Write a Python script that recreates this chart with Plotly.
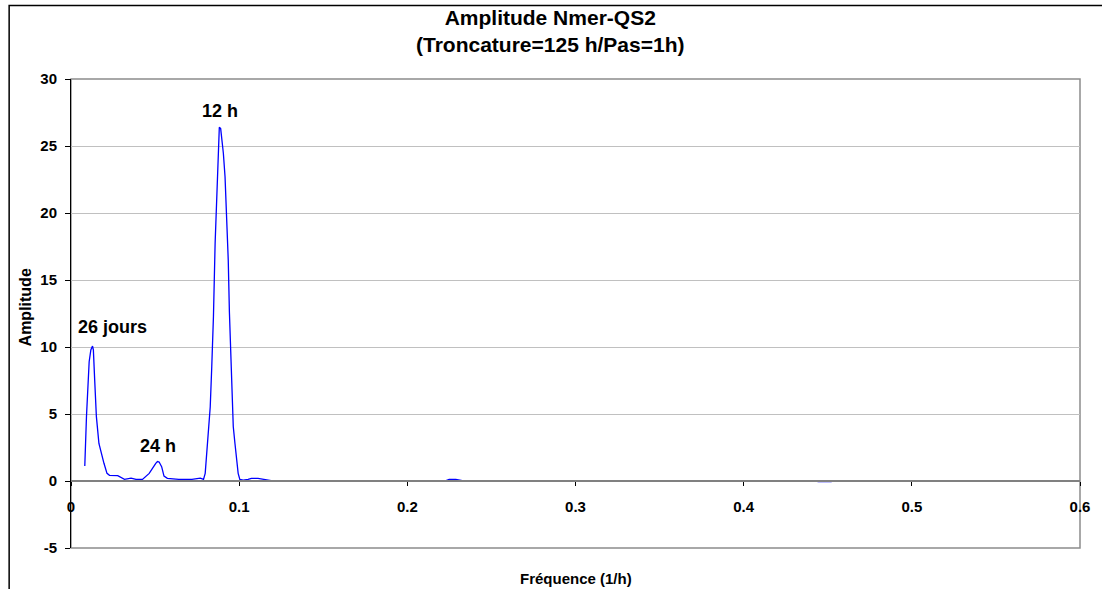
import plotly.graph_objects as go

# Spectre d'amplitude
freq = [0.0082, 0.0092, 0.0108, 0.0118, 0.0128, 0.0133, 0.0141, 0.0151, 0.0166, 0.0180,
        0.0196, 0.0214, 0.0229, 0.0278, 0.0288, 0.0318, 0.0357, 0.0386, 0.0425, 0.0465,
        0.0504, 0.0514, 0.0524, 0.0539, 0.0553, 0.0573, 0.0641, 0.0719, 0.0769, 0.0788,
        0.0798, 0.0808, 0.0818, 0.0828, 0.0837, 0.0847, 0.0857, 0.0866, 0.0872, 0.0876,
        0.0882, 0.0890, 0.0896, 0.0906, 0.0916, 0.0925, 0.0935, 0.0942, 0.0951, 0.0959,
        0.0965, 0.0975, 0.0984, 0.0994, 0.1004, 0.1024, 0.1053, 0.1073, 0.1112, 0.1151,
        0.1190, 0.1600, 0.2000, 0.2230, 0.2249, 0.2288, 0.2327, 0.3000, 0.3600, 0.4406,
        0.4445, 0.4520, 0.4543, 0.4800, 0.5000]
amplitude = [1.12, 4.80, 8.90, 9.78, 10.07, 9.78, 7.50, 4.80, 2.80, 2.07,
             1.32, 0.57, 0.42, 0.40, 0.32, 0.12, 0.22, 0.12, 0.12, 0.57,
             1.32, 1.45, 1.42, 1.07, 0.37, 0.20, 0.12, 0.12, 0.22, 0.12,
             0.57, 2.31, 4.05, 5.54, 8.53, 12.26, 17.74, 21.47, 23.96, 25.70,
             26.40, 26.30, 25.70, 24.46, 22.70, 20.20, 16.50, 12.60, 8.50, 6.00,
             4.05, 2.80, 1.57, 0.57, 0.12, 0.07, 0.12, 0.20, 0.20, 0.12,
             0.03, 0.03, 0.03, 0.03, 0.12, 0.12, 0.03, 0.03, 0.03, 0.03,
             -0.05, -0.05, 0.03, 0.03, 0.03]

# étiquettes des pics : texte, fréquence, amplitude
peak_labels = ["26 jours", "24 h", "12 h"]
peak_x = [0.0247, 0.0518, 0.0888]
peak_y = [11.5, 2.6, 27.6]

# graduations de l'axe des amplitudes (tiret simple comme dans Excel)
y_ticks = [-5, 0, 5, 10, 15, 20, 25, 30]
y_tick_text = ["-5", "0", "5", "10", "15", "20", "25", "30"]

FONT = "Liberation Sans, Arial, sans-serif"

fig = go.Figure()
fig.add_trace(go.Scatter(x=freq, y=amplitude, mode="lines",
                         line=dict(color="#0000FF", width=1.3), showlegend=False))

for txt, px_, py_ in zip(peak_labels, peak_x, peak_y):
    fig.add_annotation(x=px_, y=py_, xref="x", yref="y", text="<b>%s</b>" % txt,
                       showarrow=False, font=dict(family=FONT, size=18, color="black"))

# titre
fig.add_annotation(x=0.475, y=1.1013, xref="paper", yref="paper", yanchor="middle",
                   text="<b>Amplitude Nmer-QS2<br>(Troncature=125 h/Pas=1h)</b>",
                   showarrow=False, font=dict(family=FONT, size=21, color="black"))
# titres des axes
fig.add_annotation(x=0.5005, y=-0.064, xref="paper", yref="paper", yanchor="middle",
                   text="<b>Fréquence (1/h)</b>", showarrow=False,
                   font=dict(family=FONT, size=15, color="black"))
fig.add_annotation(x=-0.0451, y=0.514, xref="paper", yref="paper", textangle=-90,
                   xanchor="center", yanchor="middle",
                   text="<b>Amplitude</b>", showarrow=False,
                   font=dict(family=FONT, size=16, color="black"))

# cadre de la zone de tracé et cadre extérieur
fig.add_shape(type="rect", xref="paper", yref="paper", x0=0, y0=0, x1=1, y1=1,
              line=dict(color="#8c8c8c", width=1.5), layer="below")
fig.add_shape(type="rect", xref="paper", yref="paper", x0=-0.0613, y0=-0.2, x1=1.06, y1=1.1568,
              line=dict(color="black", width=1.5))

fig.update_layout(
    width=1102, height=589,
    margin=dict(l=71, r=12, t=79, b=41),
    paper_bgcolor="white", plot_bgcolor="white",
    font=dict(family=FONT, size=15, color="black"),
    xaxis=dict(range=[0, 0.6], dtick=0.1, tick0=0, anchor="free", position=5 / 35,
               showgrid=False, zeroline=False, showline=True, linecolor="#808080",
               linewidth=2, ticks="outside", ticklen=4, tickcolor="black",
               ticklabelstandoff=8, tickfont=dict(family=FONT, size=15, weight="bold")),
    yaxis=dict(range=[-5, 30], tickmode="array", tickvals=y_ticks, ticktext=y_tick_text,
               showgrid=True, gridcolor="#c0c0c0",
               gridwidth=1, zeroline=False, showline=True, linecolor="black",
               linewidth=1, ticks="outside", ticklen=5, tickcolor="black",
               ticklabelstandoff=5, tickfont=dict(family=FONT, size=15, weight="bold")),
)

fig.write_html("out.html", config={"displayModeBar": False},
               post_script="document.body.style.margin='0px';")
